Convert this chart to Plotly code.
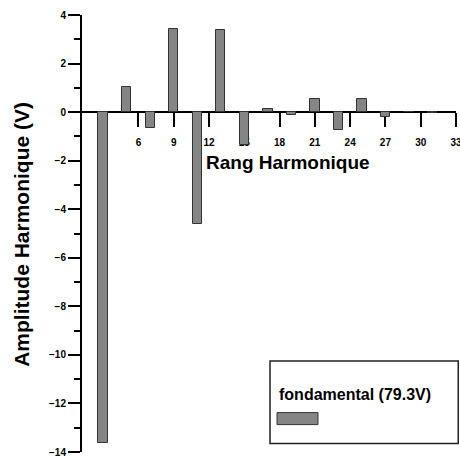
import plotly.graph_objects as go

# Data
harmonic_rank = [3, 5, 7, 9, 11, 13, 15, 17, 19, 21, 23, 25, 27, 29, 31]
amplitude_v = [-13.62, 1.02, -0.66, 3.43, -4.62, 3.39, -1.37, 0.13, -0.12,
               0.54, -0.73, 0.54, -0.21, 0.02, -0.03]
series_name = "fondamental (79.3V)"
x_tickvals = [3, 6, 9, 12, 15, 18, 21, 24, 27, 30, 33]
y_tickvals = [4, 2, 0, -2, -4, -6, -8, -10, -12, -14]

FONT = "Liberation Sans, Arial, sans-serif"

fig = go.Figure()
fig.add_trace(go.Bar(
    x=harmonic_rank, y=amplitude_v, name=series_name, width=0.8,
    marker=dict(color="#858585", line=dict(color="#333333", width=1)),
    showlegend=False,
))

fig.update_layout(
    width=460, height=459,
    margin=dict(l=82, r=4, t=14.7, b=7.3, autoexpand=False),
    paper_bgcolor="white", plot_bgcolor="white",
    font=dict(family=FONT, color="black"),
    bargap=0,
    xaxis=dict(
        range=[1.2, 33], tickvals=x_tickvals,
        anchor="free", position=14 / 18, automargin=False,
        showline=True, linecolor="black", linewidth=2,
        ticks="outside", ticklen=14, tickwidth=2, tickcolor="black",
        tickfont=dict(family=FONT, size=10, weight="bold"),
        ticklabelstandoff=7, ticklabeloverflow="allow",
        showgrid=False, zeroline=False, layer="below traces",
    ),
    yaxis=dict(
        range=[-14, 4], tickvals=y_tickvals, automargin=False,
        showline=True, linecolor="black", linewidth=2,
        ticks="outside", ticklen=12, tickwidth=2, tickcolor="black",
        tickfont=dict(family=FONT, size=10, weight="bold"),
        minor=dict(dtick=1, ticks="outside", ticklen=6, tickwidth=2, tickcolor="black", showgrid=False),
        showgrid=False, zeroline=False,
    ),
    annotations=[
        dict(text="Rang Harmonique", xref="paper", yref="paper", x=0.552, y=0.663,
             xanchor="center", yanchor="middle", showarrow=False,
             font=dict(family=FONT, size=19, weight="bold")),
        dict(text="Amplitude Harmonique (V)", xref="paper", yref="paper", x=-0.1604, y=0.497,
             xanchor="center", yanchor="middle", showarrow=False, textangle=-90,
             font=dict(family=FONT, size=21, weight="bold")),
        dict(text=series_name, xref="paper", yref="paper", x=0.5214, y=0.131,
             xanchor="left", yanchor="middle", showarrow=False,
             font=dict(family=FONT, size=16, weight="bold")),
    ],
    shapes=[
        dict(type="rect", xref="paper", yref="paper", x0=0.5027, x1=1.006, y0=0.0192, y1=0.2082,
             line=dict(color="#222222", width=1.5), fillcolor="white"),
        dict(type="rect", xref="paper", yref="paper", x0=0.5214, x1=0.631, y0=0.0627, y1=0.0902,
             line=dict(color="#333333", width=1), fillcolor="#858585"),
    ],
)

fig.write_html("out.html")
